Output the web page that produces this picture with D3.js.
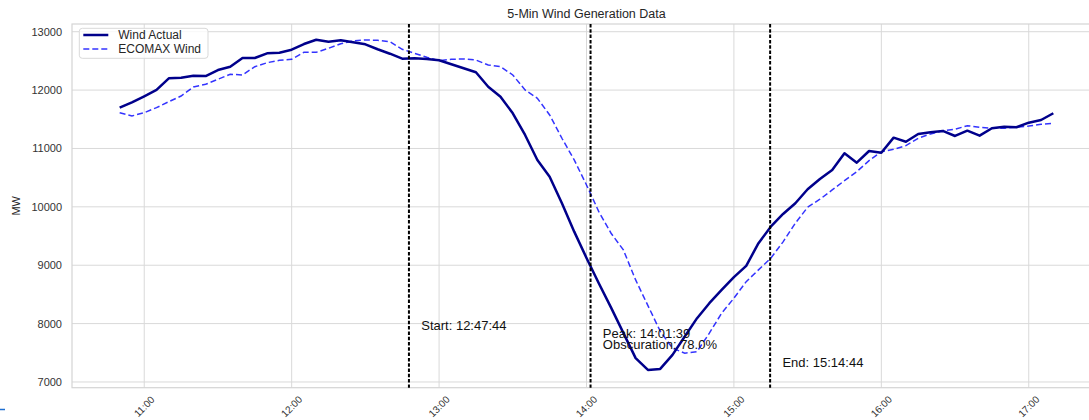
<!DOCTYPE html>
<html>
<head>
<meta charset="utf-8">
<script src="https://cdn.jsdelivr.net/npm/d3@7"></script>
<style>
  body { margin: 0; background: #fff; }
  svg { display: block; font-family: Arial, "Liberation Sans", sans-serif; }
</style>
</head>
<body>
<svg id="chart" width="1089" height="420"></svg>
<script>
// 5-minute samples starting at 10:50
const day = "2024-04-08";
const firstSample = "10:50:00";
const stepMinutes = 5;

const windActual = [
  11699, 11791, 11894, 12002, 12202, 12212, 12247, 12241, 12344, 12401,
  12550, 12550, 12630, 12641, 12692, 12789, 12863, 12829, 12853, 12818,
  12784, 12699, 12623, 12538, 12544, 12533, 12510, 12442, 12373, 12305,
  12058, 11887, 11603, 11231, 10803, 10517, 10062, 9575, 9125, 8690,
  8274, 7841, 7408, 7207, 7224, 7464, 7778, 8093, 8350, 8577,
  8795, 8990, 9377, 9661, 9878, 10062, 10301, 10478, 10632, 10918,
  10757, 10957, 10928, 11185, 11116, 11248, 11277, 11300, 11214, 11305,
  11219, 11346, 11373, 11363, 11442, 11488, 11603
];

const ecomaxWind = [
  11613, 11557, 11613, 11699, 11801, 11899, 12053, 12099, 12185, 12271,
  12259, 12401, 12469, 12510, 12527, 12647, 12647, 12716, 12795, 12841,
  12858, 12853, 12829, 12699, 12630, 12561, 12504, 12527, 12533, 12515,
  12430, 12401, 12259, 12002, 11860, 11574, 11175, 10803, 10375, 9918,
  9548, 9262, 8748, 8308, 7870, 7579, 7493, 7521, 7836, 8178,
  8435, 8719, 8920, 9120, 9400, 9720, 9993, 10130, 10289, 10449,
  10603, 10791, 10945, 10986, 11048, 11175, 11248, 11305, 11329, 11390,
  11363, 11346, 11346, 11363, 11385, 11414, 11431
];

const yTicks = [7000, 8000, 9000, 10000, 11000, 12000, 13000];
const xTickLabels = ["11:00", "12:00", "13:00", "14:00", "15:00", "16:00", "17:00"];

const eventTimes = ["12:47:44", "14:01:39", "15:14:44"];
const eventLabels = [
  ["Start: 12:47:44"],
  ["Peak: 14:01:39", "Obscuration: 78.0%"],
  ["End: 15:14:44"]
];

const seriesNames = ["Wind Actual", "ECOMAX Wind"];

// layout
const width = 1089, height = 420;
const plotLeft = 72, plotRight = 1101, plotTop = 24, plotBottom = 387.7;

const parseTime = d3.timeParse("%Y-%m-%d %H:%M:%S");
const t = s => parseTime(day + " " + (s.length === 5 ? s + ":00" : s));

const t0 = t(firstSample);
const times = windActual.map((_, i) => d3.timeMinute.offset(t0, i * stepMinutes));

const x = d3.scaleTime()
  .domain([t("10:30:36"), t("17:29:24")])
  .range([plotLeft, plotRight]);

const y = d3.scaleLinear()
  .domain([6902, 13132])
  .range([plotBottom, plotTop]);

const svg = d3.select("#chart");

// grid
const grid = svg.append("g").attr("stroke", "#d9d9d9").attr("stroke-width", 1);
grid.selectAll(".gy").data(yTicks).join("line")
  .attr("x1", plotLeft).attr("x2", plotRight)
  .attr("y1", d => y(d)).attr("y2", d => y(d));
grid.selectAll(".gx").data(xTickLabels).join("line")
  .attr("x1", d => x(t(d))).attr("x2", d => x(t(d)))
  .attr("y1", plotTop).attr("y2", plotBottom);

// frame
svg.append("rect")
  .attr("x", plotLeft).attr("y", plotTop)
  .attr("width", plotRight - plotLeft).attr("height", plotBottom - plotTop)
  .attr("fill", "none").attr("stroke", "#d4d4d4").attr("stroke-width", 1.2);

// y tick labels
svg.append("g").selectAll("text").data(yTicks).join("text")
  .attr("x", plotLeft - 10).attr("y", d => y(d))
  .attr("text-anchor", "end").attr("dominant-baseline", "central")
  .attr("font-size", 11).attr("fill", "#333")
  .text(d => d);

// x tick labels, rotated
svg.append("g").selectAll("text").data(xTickLabels).join("text")
  .attr("transform", d => `translate(${x(t(d))},406.5) rotate(-45)`)
  .attr("text-anchor", "middle").attr("dominant-baseline", "central")
  .attr("font-size", 10).attr("fill", "#333")
  .text(d => d);

// lines
const line = data => d3.line()
  .x((d, i) => x(times[i]))
  .y(d => y(d))(data);

svg.append("path")
  .attr("d", line(ecomaxWind))
  .attr("fill", "none").attr("stroke", "#0000ff").attr("stroke-opacity", 0.8)
  .attr("stroke-width", 1.5).attr("stroke-dasharray", "6,3");

svg.append("path")
  .attr("d", line(windActual))
  .attr("fill", "none").attr("stroke", "#00008b")
  .attr("stroke-width", 2.5).attr("stroke-linejoin", "round");

// eclipse markers
svg.append("g").selectAll("line").data(eventTimes).join("line")
  .attr("x1", d => x(t(d))).attr("x2", d => x(t(d)))
  .attr("y1", plotTop).attr("y2", plotBottom)
  .attr("stroke", "#000").attr("stroke-width", 2)
  .attr("stroke-dasharray", "3.5,1.8");

// annotation text baselines (MW)
const labelY = [7890, 7745, 7262];
const ann = svg.append("g").attr("font-size", 13).attr("fill", "#111");
eventTimes.forEach((d, i) => {
  const tx = x(d3.timeMinute.offset(t(d), 5));
  const txt = ann.append("text").attr("x", tx).attr("y", y(labelY[i]));
  eventLabels[i].forEach((s, j) => {
    txt.append("tspan").attr("x", tx).attr("dy", j === 0 ? 0 : 11).text(s);
  });
});

// title and axis label
svg.append("text")
  .attr("x", (plotLeft + plotRight) / 2).attr("y", 18)
  .attr("text-anchor", "middle").attr("font-size", 12.5).attr("fill", "#262626")
  .text("5-Min Wind Generation Data");

svg.append("text")
  .attr("transform", `translate(16,${(plotTop + plotBottom) / 2}) rotate(-90)`)
  .attr("text-anchor", "middle").attr("dominant-baseline", "central")
  .attr("font-size", 11).attr("fill", "#262626")
  .text("MW");

// legend
const legend = svg.append("g");
legend.append("rect")
  .attr("x", 79.3).attr("y", 28.3).attr("width", 128.7).attr("height", 30)
  .attr("rx", 3).attr("fill", "#fff").attr("fill-opacity", 0.8)
  .attr("stroke", "#d9d9d9");
const legendStyles = [
  { stroke: "#00008b", width: 2.5, dash: null, opacity: 1 },
  { stroke: "#0000ff", width: 1.5, dash: "6,3", opacity: 0.8 }
];
seriesNames.forEach((name, i) => {
  const ly = 35 + i * 14;
  legend.append("line")
    .attr("x1", 83.3).attr("x2", 108.3).attr("y1", ly).attr("y2", ly)
    .attr("stroke", legendStyles[i].stroke).attr("stroke-width", legendStyles[i].width)
    .attr("stroke-opacity", legendStyles[i].opacity)
    .attr("stroke-dasharray", legendStyles[i].dash);
  legend.append("text")
    .attr("x", 118.3).attr("y", ly).attr("dominant-baseline", "central")
    .attr("font-size", 12).attr("fill", "#262626")
    .text(name);
});

// stray mark at bottom-left of the screenshot
svg.append("line")
  .attr("x1", 0).attr("x2", 5).attr("y1", 409.5).attr("y2", 409.5)
  .attr("stroke", "#1f6fd1").attr("stroke-width", 1.5);
</script>
</body>
</html>
